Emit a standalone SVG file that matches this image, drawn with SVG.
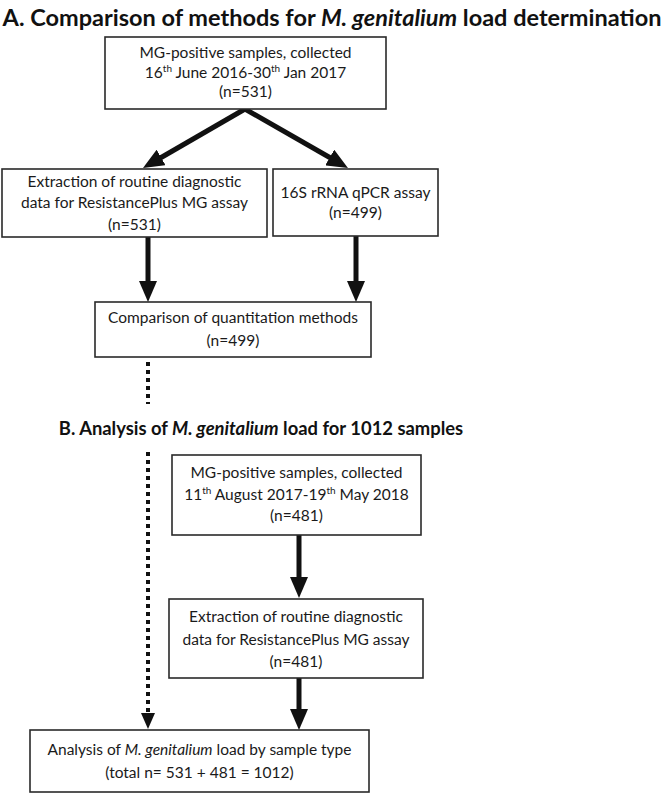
<svg xmlns="http://www.w3.org/2000/svg" width="666" height="793" viewBox="0 0 666 793">
<style>
.box{fill:#fff;stroke:#2a2a2a;stroke-width:1.6}
.t{font-family:Lato,"Open Sans","Liberation Sans",sans-serif;font-size:15.5px;fill:#1a1a1a;text-anchor:middle}
.h{font-family:Lato,"Open Sans","Liberation Sans",sans-serif;font-weight:bold;fill:#111}
.c{stroke:#111;stroke-width:5;fill:none}
.d{stroke:#111;stroke-width:4;fill:none;stroke-dasharray:4 4}
.sup{font-size:10px}
</style>
<defs>
<marker id="ah" markerUnits="userSpaceOnUse" markerWidth="22" markerHeight="18" refX="1" refY="9" orient="auto"><path d="M0,0 L21,9 L0,18 z" fill="#111"/></marker>
<marker id="ahd" markerUnits="userSpaceOnUse" markerWidth="16" markerHeight="14" refX="1" refY="7" orient="auto"><path d="M0,0 L16,7 L0,14 z" fill="#111"/></marker>
</defs>
<rect width="666" height="793" fill="#fff"/>
<text class="h" x="332" y="26" font-size="23.5" text-anchor="middle">A. Comparison of methods for <tspan font-style="italic">M. genitalium</tspan> load determination</text>
<text class="h" x="261" y="435" font-size="18.4" text-anchor="middle">B. Analysis of <tspan font-style="italic">M. genitalium</tspan> load for 1012 samples</text>
<g id="connectors">
<line class="c" x1="245" y1="109" x2="160.3" y2="158" marker-end="url(#ah)"/>
<line class="c" x1="245" y1="109" x2="330.6" y2="158" marker-end="url(#ah)"/>
<line class="c" x1="148" y1="237" x2="148" y2="282" marker-end="url(#ah)"/>
<line class="c" x1="356" y1="236" x2="356" y2="282" marker-end="url(#ah)"/>
<line class="d" x1="148" y1="362" x2="148" y2="404"/>
<line class="d" x1="148" y1="452" x2="148" y2="714" marker-end="url(#ahd)"/>
<line class="c" x1="299" y1="535" x2="299" y2="578" marker-end="url(#ah)"/>
<line class="c" x1="299" y1="678" x2="299" y2="710" marker-end="url(#ah)"/>
</g>
<g id="n1"><rect class="box" x="105" y="37" width="281" height="72"/>
<text class="t" x="245.5" y="58">MG-positive samples, collected</text>
<text class="t" x="245.5" y="78">16<tspan class="sup" dy="-6">th</tspan><tspan dy="6"> June 2016-30</tspan><tspan class="sup" dy="-6">th</tspan><tspan dy="6"> Jan 2017</tspan></text>
<text class="t" x="245.5" y="97">(n=531)</text></g>
<g id="n2"><rect class="box" x="2" y="169" width="265" height="68"/>
<text class="t" x="134.5" y="187">Extraction of routine diagnostic</text>
<text class="t" x="134.5" y="208">data for ResistancePlus MG assay</text>
<text class="t" x="134.5" y="230">(n=531)</text></g>
<g id="n3"><rect class="box" x="273" y="169" width="165" height="67"/>
<text class="t" x="355.5" y="198">16S rRNA qPCR assay</text>
<text class="t" x="355.5" y="218">(n=499)</text></g>
<g id="n4"><rect class="box" x="95" y="302" width="276" height="55"/>
<text class="t" x="233" y="323">Comparison of quantitation methods</text>
<text class="t" x="233" y="346">(n=499)</text></g>
<g id="n5"><rect class="box" x="172" y="455" width="249" height="80"/>
<text class="t" x="296.5" y="478">MG-positive samples, collected</text>
<text class="t" x="296.5" y="500">11<tspan class="sup" dy="-6">th</tspan><tspan dy="6"> August 2017-19</tspan><tspan class="sup" dy="-6">th</tspan><tspan dy="6"> May 2018</tspan></text>
<text class="t" x="296.5" y="521">(n=481)</text></g>
<g id="n6"><rect class="box" x="169" y="599" width="254" height="79"/>
<text class="t" x="296" y="622">Extraction of routine diagnostic</text>
<text class="t" x="296" y="645">data for ResistancePlus MG assay</text>
<text class="t" x="296" y="667">(n=481)</text></g>
<g id="n7"><rect class="box" x="30" y="730" width="339" height="62"/>
<text class="t" x="199.5" y="755">Analysis of <tspan font-style="italic">M. genitalium</tspan> load by sample type</text>
<text class="t" x="199.5" y="778">(total n= 531 + 481 = 1012)</text></g>
</svg>
